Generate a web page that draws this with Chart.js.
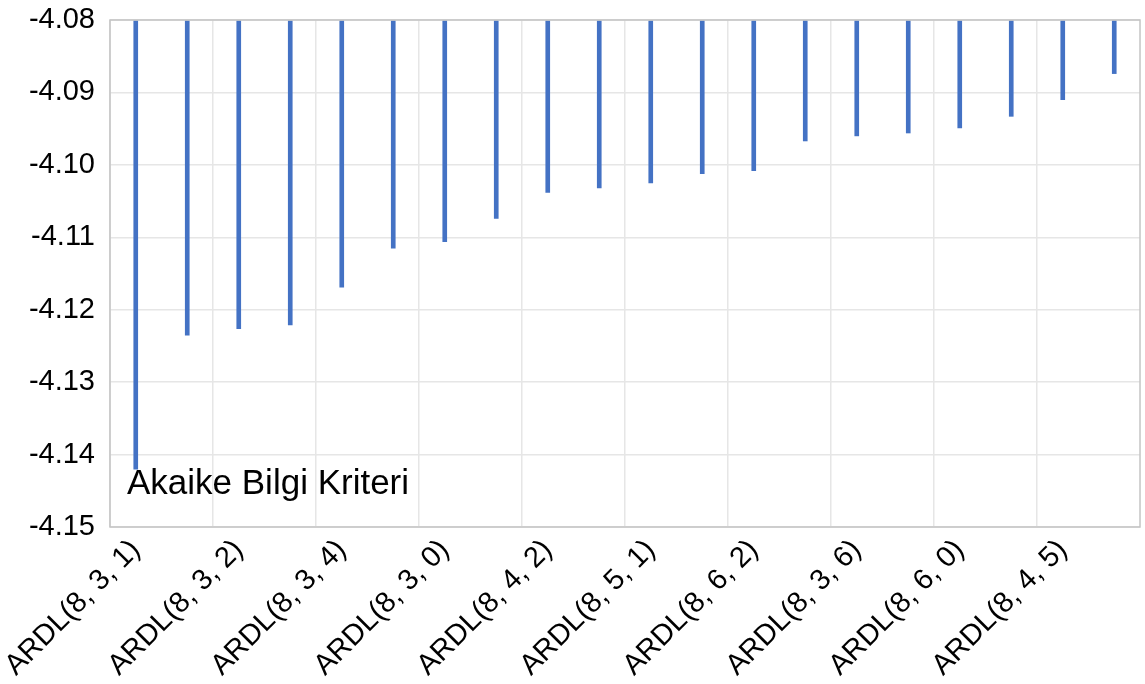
<!DOCTYPE html>
<html>
<head>
<meta charset="utf-8">
<script src="https://cdn.jsdelivr.net/npm/chart.js@4"></script>
<style>
  html, body { margin: 0; padding: 0; background: #fff; }
  #wrap { width: 1145px; height: 684px; }
</style>
</head>
<body>
<div id="wrap"><canvas id="aicChart" width="1145" height="684"></canvas></div>
<script>
// top 20 models, sorted by AIC (only every other label is shown on the axis)
const models = [
    'ARDL(8, 3, 1)', 'ARDL(8, 4, 1)', 'ARDL(8, 3, 2)', 'ARDL(8, 3, 3)',
    'ARDL(8, 3, 4)', 'ARDL(8, 3, 5)', 'ARDL(8, 3, 0)', 'ARDL(8, 4, 3)',
    'ARDL(8, 4, 2)', 'ARDL(8, 4, 4)', 'ARDL(8, 5, 1)', 'ARDL(8, 5, 2)',
    'ARDL(8, 6, 2)', 'ARDL(8, 6, 1)', 'ARDL(8, 3, 6)', 'ARDL(8, 5, 3)',
    'ARDL(8, 6, 0)', 'ARDL(8, 4, 0)', 'ARDL(8, 4, 5)', 'ARDL(8, 6, 3)',
];
const aicValues = [
    -4.1420, -4.1235, -4.1226, -4.1221, -4.1169, -4.1115, -4.1106, -4.1074,
    -4.1038, -4.1032, -4.1025, -4.1012, -4.1008, -4.0967, -4.0960, -4.0956,
    -4.0949, -4.0933, -4.0910, -4.0874,
];
const yMin = -4.15;
const yMax = -4.08;
const yStep = 0.01;
const chartTitle = 'Akaike Bilgi Kriteri';

const FONT = '"Liberation Sans", Arial, sans-serif';

const frame = {
    id: 'frame',
    afterDraw(chart) {
        const { ctx, chartArea: a } = chart;
        ctx.save();
        ctx.strokeStyle = '#c4c4c4';
        ctx.lineWidth = 1.5;
        ctx.strokeRect(a.left, a.top, a.right - a.left, a.bottom - a.top);
        ctx.fillStyle = '#000';
        ctx.font = '35px ' + FONT;
        ctx.textBaseline = 'alphabetic';
        ctx.fillText(chartTitle, a.left + 17, 494);
        ctx.restore();
    },
};

new Chart(document.getElementById('aicChart'), {
    type: 'bar',
    data: {
        labels: models,
        datasets: [{
            data: aicValues,
            base: yMax,
            backgroundColor: '#4472C4',
            barThickness: 4,
        }],
    },
    options: {
        responsive: false,
        animation: false,
        layout: { padding: { top: 20, right: 5, left: 0, bottom: 0 } },
        plugins: { legend: { display: false }, tooltip: { enabled: false } },
        scales: {
            x: {
                afterFit(scale) { scale.height = 157; },
                grid: {
                    offset: true,
                    drawTicks: false,
                    color: (c) => (c.index % 2 === 0 ? '#e6e6e6' : 'rgba(0,0,0,0)'),
                    lineWidth: 1.5,
                },
                border: { display: false },
                ticks: {
                    autoSkip: false,
                    minRotation: 45,
                    maxRotation: 45,
                    padding: 6,
                    color: '#000',
                    font: { family: FONT, size: 29 },
                    callback: (v, i) => (i % 2 === 0 ? models[i] : ''),
                },
            },
            y: {
                min: yMin,
                max: yMax,
                afterFit(scale) {
                    scale.width = 110;
                    scale.paddingTop = 0;
                    scale.paddingBottom = 0;
                },
                grid: { drawTicks: false, color: '#e6e6e6', lineWidth: 1.5 },
                border: { display: false },
                ticks: {
                    stepSize: yStep,
                    padding: 15,
                    color: '#000',
                    font: { family: FONT, size: 29 },
                    callback: (v) => v.toFixed(2),
                },
            },
        },
    },
    plugins: [frame],
});
</script>
</body>
</html>
